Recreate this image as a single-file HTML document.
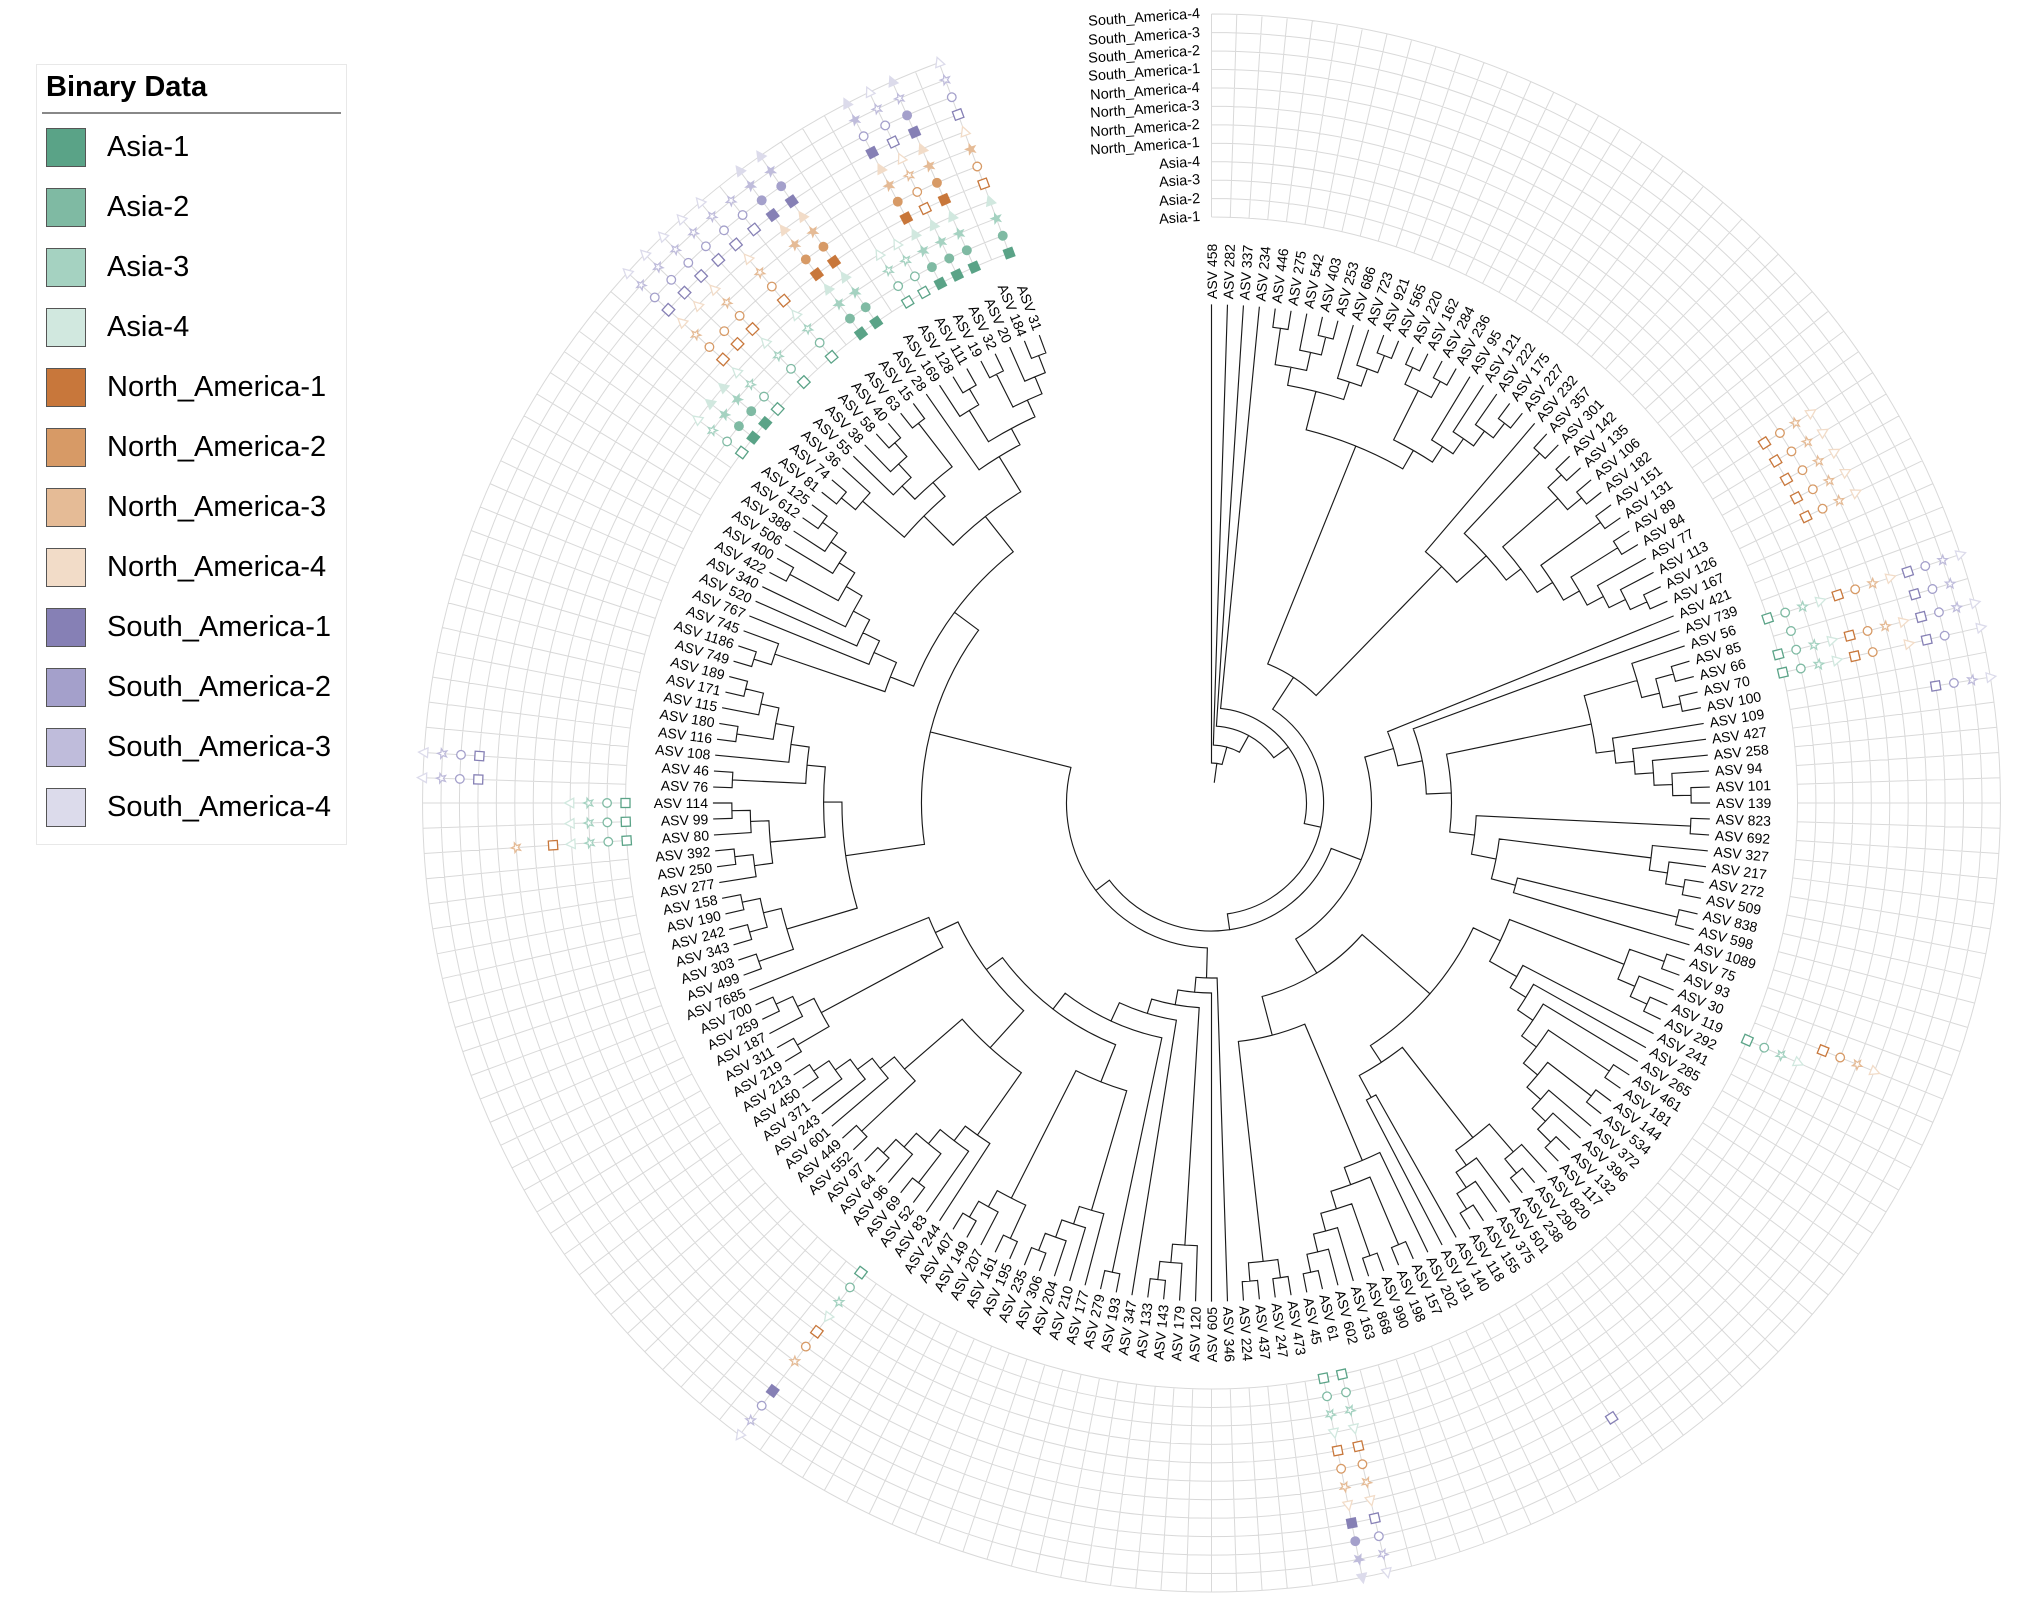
<!DOCTYPE html>
<html><head><meta charset="utf-8">
<style>
html,body{margin:0;padding:0;background:#fff;}
body{width:2018px;height:1614px;position:relative;overflow:hidden;font-family:"Liberation Sans",Arial,sans-serif;}
#sv{position:absolute;left:0;top:0;}
.t{position:absolute;left:1211.5px;top:803px;transform-origin:0 0;white-space:nowrap;font-size:14px;line-height:16px;color:#000;}
.R{transform:rotate(calc(var(--i) * 1.836735deg - 91.836735deg)) translate(504px,-50%);}
.L{transform:rotate(calc(var(--i) * 1.836735deg - 91.836735deg)) translateX(504px) rotate(180deg) translate(-100%,-50%);}
.rl{position:absolute;right:818px;height:16px;line-height:16px;font-size:14.5px;white-space:nowrap;transform-origin:100% 50%;transform:rotate(-4deg);color:#000;}
#lg{position:absolute;left:36px;top:64px;width:311px;height:781px;border:1px solid #e8e8e8;box-sizing:border-box;background:#fff;}
.lt{position:absolute;left:46px;top:70px;height:34px;line-height:34px;font-size:29px;font-weight:bold;white-space:nowrap;color:#000;}
.ll{position:absolute;left:42px;top:112px;width:299px;height:1.5px;background:#888;}
.sw{position:absolute;left:46px;width:40px;height:39px;border:1.5px solid #555;box-sizing:border-box;}
.lb{position:absolute;left:107px;height:34px;line-height:34px;font-size:29px;white-space:nowrap;color:#000;}
</style></head><body>
<svg id="sv" width="2018" height="1614" viewBox="0 0 2018 1614"></svg>

<div id="lg"></div>
<div class="lt">Binary Data</div>
<div class="ll"></div>
<div class="sw" style="top:127.5px;background:#5aa387"></div><div class="lb" style="top:130px">Asia-1</div>
<div class="sw" style="top:187.5px;background:#7fbaa3"></div><div class="lb" style="top:190px">Asia-2</div>
<div class="sw" style="top:247.5px;background:#a5d2c1"></div><div class="lb" style="top:250px">Asia-3</div>
<div class="sw" style="top:307.5px;background:#d1e8df"></div><div class="lb" style="top:310px">Asia-4</div>
<div class="sw" style="top:367.5px;background:#c8773b"></div><div class="lb" style="top:370px">North_America-1</div>
<div class="sw" style="top:427.5px;background:#d79a66"></div><div class="lb" style="top:430px">North_America-2</div>
<div class="sw" style="top:487.5px;background:#e5bb96"></div><div class="lb" style="top:490px">North_America-3</div>
<div class="sw" style="top:547.5px;background:#f2dcc8"></div><div class="lb" style="top:550px">North_America-4</div>
<div class="sw" style="top:607.5px;background:#8680b5"></div><div class="lb" style="top:610px">South_America-1</div>
<div class="sw" style="top:667.5px;background:#a4a0cb"></div><div class="lb" style="top:670px">South_America-2</div>
<div class="sw" style="top:727.5px;background:#bfbcdb"></div><div class="lb" style="top:730px">South_America-3</div>
<div class="sw" style="top:787.5px;background:#dcdbeb"></div><div class="lb" style="top:790px">South_America-4</div>

<div class="rl" style="top:209px">Asia-1</div>
<div class="rl" style="top:190.5px">Asia-2</div>
<div class="rl" style="top:172.1px">Asia-3</div>
<div class="rl" style="top:153.6px">Asia-4</div>
<div class="rl" style="top:135.2px">North_America-1</div>
<div class="rl" style="top:116.7px">North_America-2</div>
<div class="rl" style="top:98.3px">North_America-3</div>
<div class="rl" style="top:79.8px">North_America-4</div>
<div class="rl" style="top:61.4px">South_America-1</div>
<div class="rl" style="top:42.9px">South_America-2</div>
<div class="rl" style="top:24.5px">South_America-3</div>
<div class="rl" style="top:6px">South_America-4</div>

<div class="t R" style="--i:1">ASV 458</div>
<div class="t R" style="--i:2">ASV 282</div>
<div class="t R" style="--i:3">ASV 337</div>
<div class="t R" style="--i:4">ASV 234</div>
<div class="t R" style="--i:5">ASV 446</div>
<div class="t R" style="--i:6">ASV 275</div>
<div class="t R" style="--i:7">ASV 542</div>
<div class="t R" style="--i:8">ASV 403</div>
<div class="t R" style="--i:9">ASV 253</div>
<div class="t R" style="--i:10">ASV 686</div>
<div class="t R" style="--i:11">ASV 723</div>
<div class="t R" style="--i:12">ASV 921</div>
<div class="t R" style="--i:13">ASV 565</div>
<div class="t R" style="--i:14">ASV 220</div>
<div class="t R" style="--i:15">ASV 162</div>
<div class="t R" style="--i:16">ASV 284</div>
<div class="t R" style="--i:17">ASV 236</div>
<div class="t R" style="--i:18">ASV 95</div>
<div class="t R" style="--i:19">ASV 121</div>
<div class="t R" style="--i:20">ASV 222</div>
<div class="t R" style="--i:21">ASV 175</div>
<div class="t R" style="--i:22">ASV 227</div>
<div class="t R" style="--i:23">ASV 232</div>
<div class="t R" style="--i:24">ASV 357</div>
<div class="t R" style="--i:25">ASV 301</div>
<div class="t R" style="--i:26">ASV 142</div>
<div class="t R" style="--i:27">ASV 135</div>
<div class="t R" style="--i:28">ASV 106</div>
<div class="t R" style="--i:29">ASV 182</div>
<div class="t R" style="--i:30">ASV 151</div>
<div class="t R" style="--i:31">ASV 131</div>
<div class="t R" style="--i:32">ASV 89</div>
<div class="t R" style="--i:33">ASV 84</div>
<div class="t R" style="--i:34">ASV 77</div>
<div class="t R" style="--i:35">ASV 113</div>
<div class="t R" style="--i:36">ASV 126</div>
<div class="t R" style="--i:37">ASV 167</div>
<div class="t R" style="--i:38">ASV 421</div>
<div class="t R" style="--i:39">ASV 739</div>
<div class="t R" style="--i:40">ASV 56</div>
<div class="t R" style="--i:41">ASV 85</div>
<div class="t R" style="--i:42">ASV 66</div>
<div class="t R" style="--i:43">ASV 70</div>
<div class="t R" style="--i:44">ASV 100</div>
<div class="t R" style="--i:45">ASV 109</div>
<div class="t R" style="--i:46">ASV 427</div>
<div class="t R" style="--i:47">ASV 258</div>
<div class="t R" style="--i:48">ASV 94</div>
<div class="t R" style="--i:49">ASV 101</div>
<div class="t R" style="--i:50">ASV 139</div>
<div class="t R" style="--i:51">ASV 823</div>
<div class="t R" style="--i:52">ASV 692</div>
<div class="t R" style="--i:53">ASV 327</div>
<div class="t R" style="--i:54">ASV 217</div>
<div class="t R" style="--i:55">ASV 272</div>
<div class="t R" style="--i:56">ASV 509</div>
<div class="t R" style="--i:57">ASV 838</div>
<div class="t R" style="--i:58">ASV 598</div>
<div class="t R" style="--i:59">ASV 1089</div>
<div class="t R" style="--i:60">ASV 75</div>
<div class="t R" style="--i:61">ASV 93</div>
<div class="t R" style="--i:62">ASV 30</div>
<div class="t R" style="--i:63">ASV 119</div>
<div class="t R" style="--i:64">ASV 292</div>
<div class="t R" style="--i:65">ASV 241</div>
<div class="t R" style="--i:66">ASV 285</div>
<div class="t R" style="--i:67">ASV 265</div>
<div class="t R" style="--i:68">ASV 461</div>
<div class="t R" style="--i:69">ASV 181</div>
<div class="t R" style="--i:70">ASV 144</div>
<div class="t R" style="--i:71">ASV 534</div>
<div class="t R" style="--i:72">ASV 372</div>
<div class="t R" style="--i:73">ASV 396</div>
<div class="t R" style="--i:74">ASV 132</div>
<div class="t R" style="--i:75">ASV 117</div>
<div class="t R" style="--i:76">ASV 820</div>
<div class="t R" style="--i:77">ASV 290</div>
<div class="t R" style="--i:78">ASV 238</div>
<div class="t R" style="--i:79">ASV 501</div>
<div class="t R" style="--i:80">ASV 375</div>
<div class="t R" style="--i:81">ASV 155</div>
<div class="t R" style="--i:82">ASV 118</div>
<div class="t R" style="--i:83">ASV 140</div>
<div class="t R" style="--i:84">ASV 191</div>
<div class="t R" style="--i:85">ASV 202</div>
<div class="t R" style="--i:86">ASV 157</div>
<div class="t R" style="--i:87">ASV 198</div>
<div class="t R" style="--i:88">ASV 990</div>
<div class="t R" style="--i:89">ASV 868</div>
<div class="t R" style="--i:90">ASV 163</div>
<div class="t R" style="--i:91">ASV 602</div>
<div class="t R" style="--i:92">ASV 61</div>
<div class="t R" style="--i:93">ASV 45</div>
<div class="t R" style="--i:94">ASV 473</div>
<div class="t R" style="--i:95">ASV 247</div>
<div class="t R" style="--i:96">ASV 437</div>
<div class="t R" style="--i:97">ASV 224</div>
<div class="t R" style="--i:98">ASV 346</div>
<div class="t L" style="--i:99">ASV 605</div>
<div class="t L" style="--i:100">ASV 120</div>
<div class="t L" style="--i:101">ASV 179</div>
<div class="t L" style="--i:102">ASV 143</div>
<div class="t L" style="--i:103">ASV 133</div>
<div class="t L" style="--i:104">ASV 347</div>
<div class="t L" style="--i:105">ASV 193</div>
<div class="t L" style="--i:106">ASV 279</div>
<div class="t L" style="--i:107">ASV 177</div>
<div class="t L" style="--i:108">ASV 210</div>
<div class="t L" style="--i:109">ASV 204</div>
<div class="t L" style="--i:110">ASV 306</div>
<div class="t L" style="--i:111">ASV 235</div>
<div class="t L" style="--i:112">ASV 195</div>
<div class="t L" style="--i:113">ASV 161</div>
<div class="t L" style="--i:114">ASV 207</div>
<div class="t L" style="--i:115">ASV 149</div>
<div class="t L" style="--i:116">ASV 407</div>
<div class="t L" style="--i:117">ASV 244</div>
<div class="t L" style="--i:118">ASV 83</div>
<div class="t L" style="--i:119">ASV 52</div>
<div class="t L" style="--i:120">ASV 69</div>
<div class="t L" style="--i:121">ASV 96</div>
<div class="t L" style="--i:122">ASV 64</div>
<div class="t L" style="--i:123">ASV 97</div>
<div class="t L" style="--i:124">ASV 552</div>
<div class="t L" style="--i:125">ASV 449</div>
<div class="t L" style="--i:126">ASV 601</div>
<div class="t L" style="--i:127">ASV 243</div>
<div class="t L" style="--i:128">ASV 371</div>
<div class="t L" style="--i:129">ASV 450</div>
<div class="t L" style="--i:130">ASV 213</div>
<div class="t L" style="--i:131">ASV 219</div>
<div class="t L" style="--i:132">ASV 311</div>
<div class="t L" style="--i:133">ASV 187</div>
<div class="t L" style="--i:134">ASV 259</div>
<div class="t L" style="--i:135">ASV 700</div>
<div class="t L" style="--i:136">ASV 7685</div>
<div class="t L" style="--i:137">ASV 499</div>
<div class="t L" style="--i:138">ASV 303</div>
<div class="t L" style="--i:139">ASV 343</div>
<div class="t L" style="--i:140">ASV 242</div>
<div class="t L" style="--i:141">ASV 190</div>
<div class="t L" style="--i:142">ASV 158</div>
<div class="t L" style="--i:143">ASV 277</div>
<div class="t L" style="--i:144">ASV 250</div>
<div class="t L" style="--i:145">ASV 392</div>
<div class="t L" style="--i:146">ASV 80</div>
<div class="t L" style="--i:147">ASV 99</div>
<div class="t L" style="--i:148">ASV 114</div>
<div class="t L" style="--i:149">ASV 76</div>
<div class="t L" style="--i:150">ASV 46</div>
<div class="t L" style="--i:151">ASV 108</div>
<div class="t L" style="--i:152">ASV 116</div>
<div class="t L" style="--i:153">ASV 180</div>
<div class="t L" style="--i:154">ASV 115</div>
<div class="t L" style="--i:155">ASV 171</div>
<div class="t L" style="--i:156">ASV 189</div>
<div class="t L" style="--i:157">ASV 749</div>
<div class="t L" style="--i:158">ASV 1186</div>
<div class="t L" style="--i:159">ASV 745</div>
<div class="t L" style="--i:160">ASV 767</div>
<div class="t L" style="--i:161">ASV 520</div>
<div class="t L" style="--i:162">ASV 340</div>
<div class="t L" style="--i:163">ASV 422</div>
<div class="t L" style="--i:164">ASV 400</div>
<div class="t L" style="--i:165">ASV 506</div>
<div class="t L" style="--i:166">ASV 388</div>
<div class="t L" style="--i:167">ASV 612</div>
<div class="t L" style="--i:168">ASV 125</div>
<div class="t L" style="--i:169">ASV 81</div>
<div class="t L" style="--i:170">ASV 74</div>
<div class="t L" style="--i:171">ASV 36</div>
<div class="t L" style="--i:172">ASV 55</div>
<div class="t L" style="--i:173">ASV 38</div>
<div class="t L" style="--i:174">ASV 58</div>
<div class="t L" style="--i:175">ASV 40</div>
<div class="t L" style="--i:176">ASV 63</div>
<div class="t L" style="--i:177">ASV 15</div>
<div class="t L" style="--i:178">ASV 28</div>
<div class="t L" style="--i:179">ASV 169</div>
<div class="t L" style="--i:180">ASV 128</div>
<div class="t L" style="--i:181">ASV 111</div>
<div class="t L" style="--i:182">ASV 19</div>
<div class="t L" style="--i:183">ASV 32</div>
<div class="t L" style="--i:184">ASV 20</div>
<div class="t L" style="--i:185">ASV 184</div>
<div class="t L" style="--i:186">ASV 31</div>

<script>
(function(){
var DA=360/196, CX=1211.5, CY=803, RT=498, ST=18.35;
function P(r,a){var t=a*Math.PI/180;return (CX+r*Math.sin(t)).toFixed(2)+' '+(CY-r*Math.cos(t)).toFixed(2);}
function PXY(r,a){var t=a*Math.PI/180;return [(CX+r*Math.sin(t)).toFixed(2),(CY-r*Math.cos(t)).toFixed(2)];}
function n(r){return {r:r,c:Array.prototype.slice.call(arguments,1)};}
var td='';
function lay(x){
  if(typeof x==='number')return {a:(x-1)*DA,r:RT,h:0};
  var kids=Array.isArray(x)?x:x.c, r=Array.isArray(x)?null:x.r;
  var L=kids.map(lay);
  var h=0,s=0,mn=1e9,mx=-1e9,i,k;
  for(i=0;i<L.length;i++){k=L[i];h=Math.max(h,k.h);s+=k.a;mn=Math.min(mn,k.a);mx=Math.max(mx,k.a);}
  h+=1; if(r===null)r=RT-ST*h;
  for(i=0;i<L.length;i++){k=L[i];td+='M'+P(r,k.a)+'L'+P(k.r,k.a);}
  if(mx-mn>0.001)td+='M'+P(r,mn)+'A'+r+' '+r+' 0 '+(mx-mn>180?1:0)+' 1 '+P(r,mx);
  return {a:s/L.length,r:r,h:h};
}
var A=[[5,6],[7,[8,9]]];
var B=[10,[11,[12,13]]];
var C=[[[14,15],[16,17]],[18,[19,[20,[21,22]]]]];
var Dd=[[24,25],[[[26,27],[28,29]],[[30,31],[[32,33],[34,[35,[36,37]]]]]]];
var FG=[[40,[[41,42],[43,44]]],[45,[46,[47,[48,[49,50]]]]]];
var H=[53,[54,[55,56]]];
var I=[[60,61],[62,[63,64]]];
var J=[65,[66,[67,[[68,69],[[70,71],[72,[73,[74,75]]]]]]]];
var K=[[76,[77,78]],[79,[80,[81,82]]]];
var L=[85,[[86,87],[[88,89],[90,[91,[92,93]]]]]];
var M=[[94,95],[96,97]];
var N=[100,[101,[102,103]]];
var O=[107,[108,[109,[110,111]]]];
var Pp=[[112,113],[114,[115,116]]];
var Q=[117,[118,[[119,120],[121,[122,123]]]]];
var R=[[124,125],[126,[127,[128,[129,130]]]]];
var S=[[131,132],[133,[134,135]]];
var T=[[[141,142],[139,140]],[137,138]];
var U=[[146,[147,148]],[143,[144,145]]];
var V=[[[[[[154,[155,156]],[152,153]],151],[149,150]],U],T];
var W=[159,[157,158]];
var X=[160,[161,[162,[[163,164],[165,[166,[167,168]]]]]]];
var Y=[[[169,170],171],[[172,[173,[174,175]]],[176,177]]];
var Z=[178,[[179,[180,181]],[[182,183],[184,[185,186]]]]];
var tree=n(21, n(40, 1, n(58, 2, n(77, 3, n(95, 4, n(112,
  n(150, n(385,[A,B],C), n(330,23,Dd)),
  n(128,
    n(160,
      n(190,38,n(215,39,n(240,FG,n(265,[51,52],n(290,H,n(315,[57,58],59)))))),
      n(200, n(290, n(320,I,J), n(310,K,n(335,83,84))), n(240,L,M))
    ),
    n(145,
      n(175,98,n(190,99,n(205,N,n(220,104,n(240,[105,106],n(260,n(300,O,Pp),n(280,n(330,Q,R),n(305,S,136)))))))),
      n(290,V,n(320,n(345,W,X),n(365,Y,Z)))
    )
  )
))))));
lay(tree);
var gd='', A1=185*DA, k, i, r;
for(k=0;k<12;k++){r=586+18.45*k;gd+='M'+P(r,0)+'A'+r.toFixed(2)+' '+r.toFixed(2)+' 0 1 1 '+P(r,A1);}
for(i=0;i<186;i++){gd+='M'+P(586,i*DA)+'L'+P(789,i*DA);}
var COL=['#5aa387','#7fbaa3','#a5d2c1','#d1e8df','#c8773b','#d79a66','#e5bb96','#f2dcc8','#8680b5','#a4a0cb','#bfbcdb','#dcdbeb'];
function star(Ro,Ri){var p=[];for(var j=0;j<10;j++){var t=(-90+36*j)*Math.PI/180;var rr=j%2?Ri:Ro;p.push((rr*Math.cos(t)).toFixed(2)+','+(rr*Math.sin(t)).toFixed(2));}return p.join(' ');}
var SH=['<rect x="-4.5" y="-4.5" width="9" height="9"/>','<circle r="4.3"/>','<polygon points="'+star(5,2.1)+'"/>','<polygon points="0,-5.6 4.8,3.6 -4.8,3.6"/>'];
var MK={32:"----HHHH----",33:"----HHHH----",34:"----HHHH----",35:"----HHHH----",36:"----HHHH----",
40:"HHHHHHHHHHHH",41:"-H------HHH-",42:"HHHHHHHHHHHH",43:"HHHHHH-HHH-H",45:"--------HHHH",
62:"----HHHH----",63:"HHHH--------",81:"--------H---",92:"HHHHHHHHHHHH",93:"HHHHHHHHFFFF",
119:"HHHHHHH-FHHH",146:"HHHHH-H-----",147:"HHHH--------",148:"HHHH--------",149:"--------HHHH",150:"--------HHHH",
168:"HHHH--------",169:"FFFF--------",170:"FFFF--------",171:"HHHHHHHHHHHH",172:"----HH-HHHHH",173:"HHHHHHHHHHHH",
174:"--------HHHH",175:"HHHHHHHHHHHH",176:"--------HHH-",177:"FFFFFFFFFFFF",178:"FFFFFFFFFFFF",
180:"HHHH--------",181:"HHHH--------",182:"FFFFFFFFFHFF",183:"FFFFHHHHHHHH",184:"FFFFFFFFFFHF",186:"FFFFHHFHHHHH"};
var ms='';
for(var tip in MK){
  var s=MK[tip], a=(tip-1)*DA;
  for(k=0;k<12;k++){
    var ch=s.charAt(k); if(ch==='-')continue;
    var p=PXY(586+18.45*k,a);
    ms+='<g transform="translate('+p[0]+' '+p[1]+') rotate('+a.toFixed(2)+')" fill="'+(ch==='F'?COL[k]:'#fff')+'" stroke="'+COL[k]+'" stroke-width="1.3">'+SH[k%4]+'</g>';
  }
}
document.getElementById('sv').innerHTML='<path d="'+gd+'" fill="none" stroke="#d9d9d9" stroke-width="1"/><path d="'+td+'" fill="none" stroke="#1a1a1a" stroke-width="1.15" stroke-linecap="square"/>'+ms;
})();
</script>
</body></html>
